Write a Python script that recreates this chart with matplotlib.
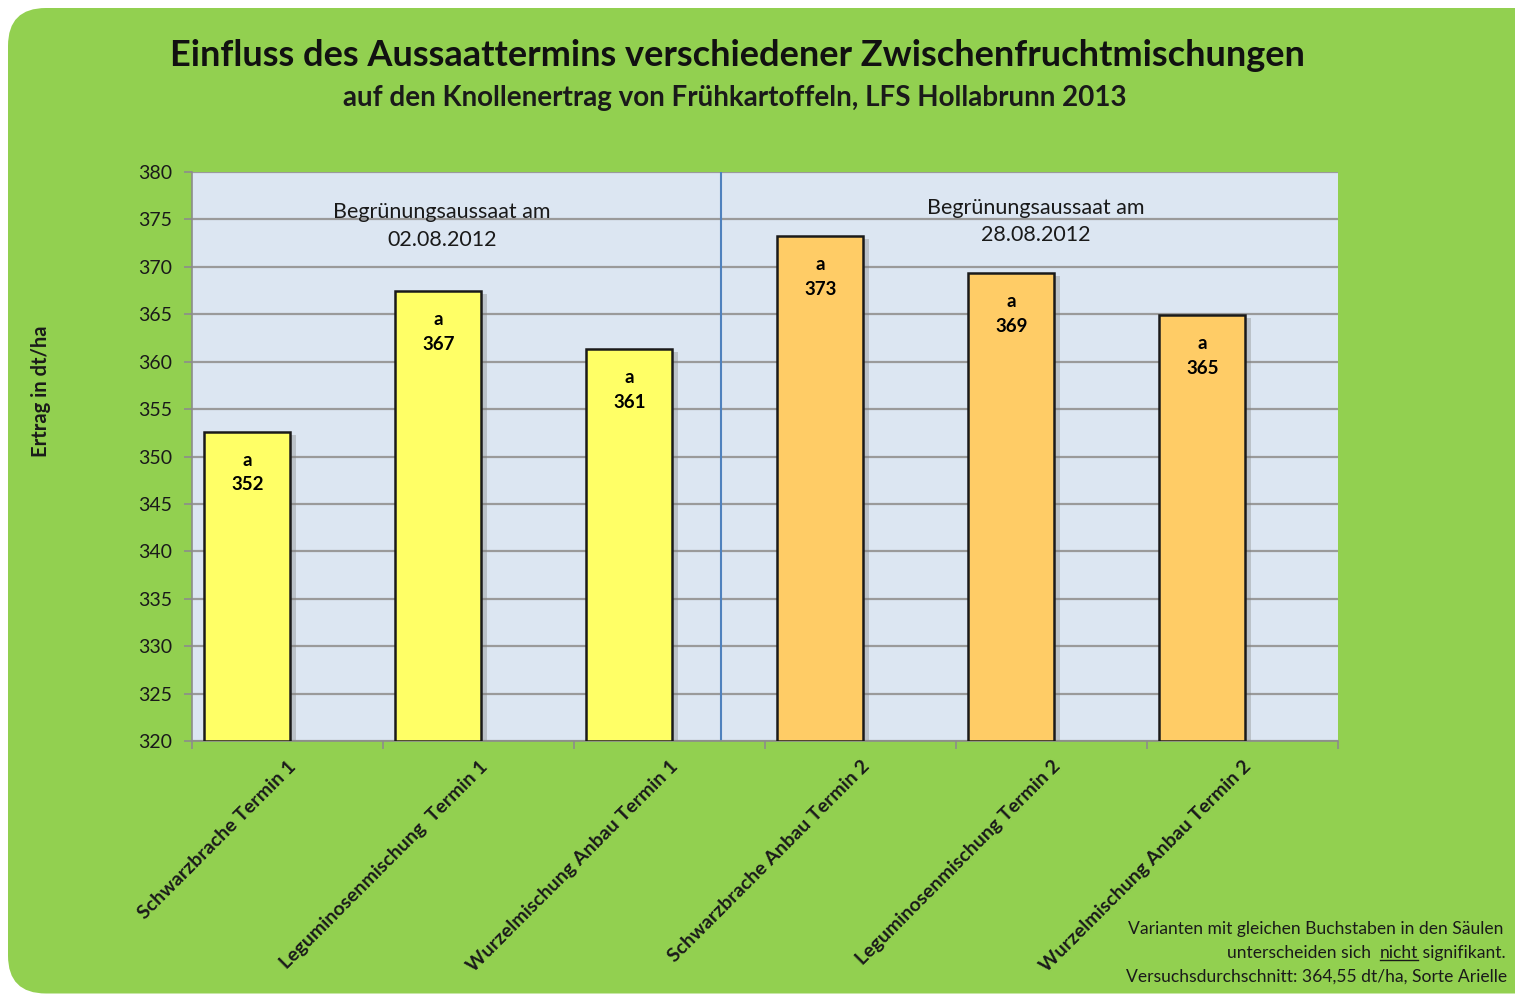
import matplotlib
matplotlib.use("Agg")
import matplotlib.pyplot as plt
from matplotlib.patches import FancyBboxPatch
from matplotlib.lines import Line2D

categories = ["Schwarzbrache Termin 1", "Leguminosenmischung  Termin 1",
              "Wurzelmischung Anbau Termin 1", "Schwarzbrache Anbau Termin 2",
              "Leguminosenmischung Termin 2", "Wurzelmischung Anbau Termin 2"]
values = [352.6, 367.4, 361.3, 373.2, 369.3, 364.9]
value_labels = ["352", "367", "361", "373", "369", "365"]
letters = ["a", "a", "a", "a", "a", "a"]
bar_colors = ["#FFFF66", "#FFFF66", "#FFFF66", "#FFCC66", "#FFCC66", "#FFCC66"]
yticks = list(range(320, 381, 5))
group_texts = ["Begrünungsaussaat am\n02.08.2012", "Begrünungsaussaat am\n28.08.2012"]

W, H = 1515, 994
fig = plt.figure(figsize=(W / 100, H / 100), dpi=100)
fig.patch.set_facecolor("white")
plt.rcParams['font.family'] = ['Lato', 'DejaVu Sans']

bg = FancyBboxPatch((8 / W, 0.5 / H), 1.2, (H - 8.5) / H,
                    boxstyle="round,pad=0,rounding_size=0.025",
                    transform=fig.transFigure, facecolor="#92D050",
                    edgecolor="none", zorder=-5, mutation_aspect=W / H)
fig.patches.append(bg)

ax = fig.add_axes([192 / W, 1 - 741 / H, (1338 - 192) / W, (741 - 172) / H])
ax.set_zorder(1)
ax.set_facecolor("#DCE6F2")
ax.set_xlim(-0.5, 5.5)
ax.set_ylim(320, 380)

xs = [i - 0.21 for i in range(len(values))]
for x, v, c in zip(xs, values, bar_colors):
    ax.bar(x, v - 320, bottom=320, width=0.45, color=c, edgecolor="#1a1a1a",
           linewidth=1.8, zorder=3)
    ax.bar(x + 0.03, v - 320 - 0.3, bottom=320, width=0.45, color="#7f7f7f",
           alpha=0.35, edgecolor="none", zorder=2)

for x, v, lab, let in zip(xs, values, value_labels, letters):
    ax.text(x, v - 3.0, let, ha="center", va="center", fontsize=13.5,
            fontweight="bold", color="black", zorder=4)
    ax.text(x, v - 5.6, lab, ha="center", va="center", fontsize=13.5,
            fontweight="bold", color="black", zorder=4)

ax.set_yticks(yticks)
ax.set_yticklabels([str(t) for t in yticks], fontsize=14, color="#1a1a1a")
ax.yaxis.grid(True, color="#9a9a9a", linewidth=1.6, zorder=1)
ax.tick_params(axis="y", length=6, color="#8c8c8c", width=1.2, pad=8)

ax.set_xticks(range(len(categories)))
ax.set_xticklabels(categories, rotation=45, ha="right", rotation_mode="anchor",
                   fontsize=14, fontweight="bold", color="#1a1a1a")
ax.tick_params(axis="x", length=0, pad=12)
ax.set_xticks([i - 0.5 for i in range(len(categories) + 1)], minor=True)
ax.tick_params(axis="x", which="minor", length=6, color="#8c8c8c", width=1.2)

for s in ["top", "right"]:
    ax.spines[s].set_visible(False)
ax.spines["left"].set_color("#8c8c8c")
ax.spines["left"].set_linewidth(1.2)
ax.spines["bottom"].set_color("#8c8c8c")
ax.spines["bottom"].set_linewidth(1.2)

ax.axvline(2.27, color="#4F81BD", linewidth=1.5, zorder=2)

ax.text(0.81, 374.3, group_texts[0], ha="center", va="center", fontsize=15.5,
        color="#1a1a1a", linespacing=1.45, zorder=4)
ax.text(3.92, 374.8, group_texts[1], ha="center", va="center", fontsize=15.5,
        color="#1a1a1a", linespacing=1.45, zorder=4)

ax.set_ylabel("Ertrag in dt/ha", fontsize=14.5, fontweight="bold", color="#1a1a1a")
ax.yaxis.set_label_coords(-141 / (1338 - 192), 0.615)

fig.text(737 / W, 1 - 55 / H,
         "Einfluss des Aussaattermins verschiedener Zwischenfruchtmischungen",
         ha="center", va="center", fontsize=26, fontweight="bold", color="#111111")
fig.text(735 / W, 1 - 98 / H,
         "auf den Knollenertrag von Frühkartoffeln, LFS Hollabrunn 2013",
         ha="center", va="center", fontsize=20, fontweight="bold", color="#1a1a1a")

fs = 12.6
fig.text(1128 / W, 1 - 929 / H, "Varianten mit gleichen Buchstaben in den Säulen",
         ha="left", va="center", fontsize=fs, color="#1a1a1a")
fig.text(1126 / W, 1 - 977 / H, "Versuchsdurchschnitt: 364,55 dt/ha, Sorte Arielle",
         ha="left", va="center", fontsize=fs, color="#1a1a1a")
renderer = fig.canvas.get_renderer()
t1 = fig.text(1227 / W, 1 - 953 / H, "unterscheiden sich  ",
              ha="left", va="center", fontsize=fs, color="#1a1a1a")
bb1 = t1.get_window_extent(renderer)
t2 = fig.text(bb1.x1 / W, 1 - 953 / H, "nicht",
              ha="left", va="center", fontsize=fs, color="#1a1a1a")
bb2 = t2.get_window_extent(renderer)
fig.text(bb2.x1 / W, 1 - 953 / H, " signifikant.",
         ha="left", va="center", fontsize=fs, color="#1a1a1a")
fig.lines.append(Line2D([bb2.x0 / W, bb2.x1 / W], [(bb2.y0 + 1) / H, (bb2.y0 + 1) / H],
                        transform=fig.transFigure, color="#1a1a1a", linewidth=1))

fig.savefig("out.png", dpi=100, facecolor=fig.get_facecolor())
